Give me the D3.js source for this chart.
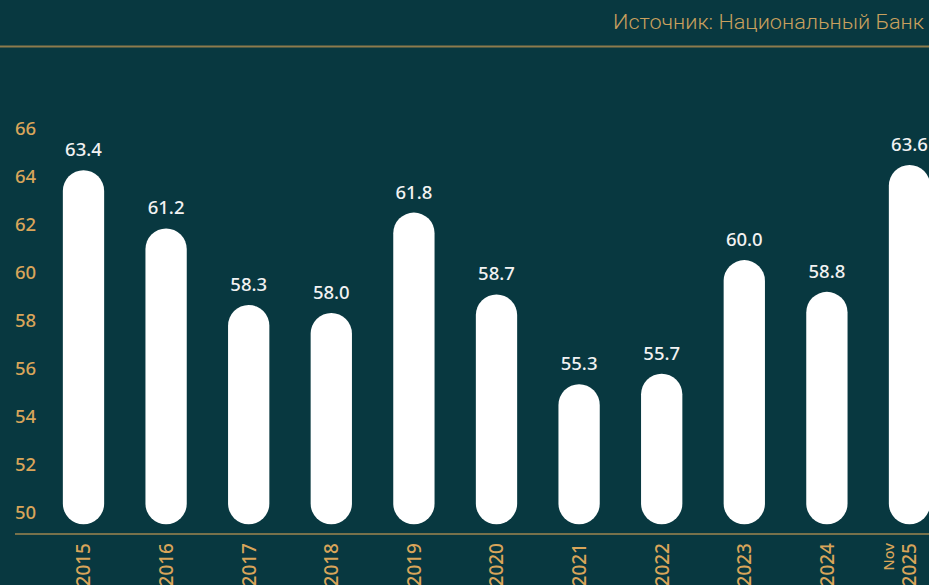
<!DOCTYPE html>
<html>
<head>
<meta charset="utf-8">
<script src="https://cdn.jsdelivr.net/npm/d3@7"></script>
<style>
  html, body { margin: 0; padding: 0; background: #083840; }
  svg { display: block; }
</style>
</head>
<body>
<svg id="chart" width="929" height="585"></svg>
<script>
// ==================== DATA ====================
const categories = ['2015', '2016', '2017', '2018', '2019', '2020', '2021', '2022', '2023', '2024', 'Nov\n2025'];
const values = [63.4, 61.2, 58.3, 58.0, 61.8, 58.7, 55.3, 55.7, 60.0, 58.8, 63.6];
const yTicks = [50, 52, 54, 56, 58, 60, 62, 64, 66];
const sourceText = 'Источник: Национальный Банк';

const W = 929, H = 585;
const BG = '#083840';
const GOLD = '#d9a55a';
const LINE_GOLD = '#8d7b4c';
const FONT = '"Noto Sans", "DejaVu Sans", sans-serif';

const svg = d3.select('#chart');
svg.append('rect').attr('width', W).attr('height', H).attr('fill', BG);

// ==================== ESCALAS ====================
const x = d3.scaleBand()
  .domain(categories)
  .range([42.2, 950.8])
  .paddingInner(0.5)
  .paddingOuter(0.25);

// bars: bottom of the pill sits at 50
const y = d3.scaleLinear().domain([50, 66]).range([524.3, 101.6]);

// axis labels are spaced on their own grid in the original
const yAxisScale = d3.scaleLinear().domain([50, 66]).range([512.5, 128.5]);

// ==================== CABECERA ====================
svg.append('text')
  .attr('x', 924)
  .attr('y', 29)
  .attr('text-anchor', 'end')
  .attr('fill', '#c9a05e')
  .attr('font-family', 'Roboto, "Liberation Sans", sans-serif')
  .attr('font-weight', 300)
  .attr('font-size', 21)
  .attr('textLength', 311)
  .attr('lengthAdjust', 'spacingAndGlyphs')
  .text(sourceText);

svg.append('line')
  .attr('x1', 0).attr('x2', W)
  .attr('y1', 46.5).attr('y2', 46.5)
  .attr('stroke', LINE_GOLD)
  .attr('stroke-width', 2);

// ==================== EJE Y ====================
const yAxis = svg.append('g')
  .attr('transform', 'translate(15,0)')
  .call(d3.axisRight(yAxisScale).tickValues(yTicks).tickSize(0).tickPadding(0));
yAxis.select('.domain').remove();
yAxis.selectAll('text')
  .attr('fill', GOLD)
  .attr('font-family', FONT)
  .attr('font-weight', 500)
  .attr('font-size', 18.5)
  .attr('text-anchor', 'start');

// ==================== BARRAS ====================
const bw = x.bandwidth();
svg.append('g')
  .selectAll('rect')
  .data(values)
  .join('rect')
  .attr('x', (d, i) => x(categories[i]))
  .attr('y', d => y(d))
  .attr('width', bw)
  .attr('height', d => y(50) - y(d))
  .attr('rx', bw / 2)
  .attr('ry', bw / 2)
  .attr('fill', '#ffffff');

// value labels
svg.append('g')
  .selectAll('text')
  .data(values)
  .join('text')
  .attr('x', (d, i) => x(categories[i]) + bw / 2)
  .attr('y', d => y(d) - 14)
  .attr('text-anchor', 'middle')
  .attr('fill', '#f2f2f2')
  .attr('font-family', FONT)
  .attr('font-weight', 500)
  .attr('font-size', 18.5)
  .text(d => d.toFixed(1));

// ==================== EJE X ====================
svg.append('line')
  .attr('x1', 15).attr('x2', W)
  .attr('y1', 534).attr('y2', 534)
  .attr('stroke', '#9c844f')
  .attr('stroke-width', 1.6);

const xLabels = svg.append('g')
  .selectAll('g')
  .data(categories)
  .join('g')
  .attr('transform', d => `translate(${x(d) + bw / 2},543) rotate(-90)`);

xLabels.each(function (d) {
  const lines = d.split('\n');
  const g = d3.select(this);
  lines.forEach((line, i) => {
    const isMain = i === lines.length - 1;
    g.append('text')
      .attr('x', 0)
      .attr('y', isMain ? 0 : -20.5)
      .attr('dy', '0.36em')
      .attr('text-anchor', 'end')
      .attr('fill', GOLD)
      .attr('font-family', FONT)
      .attr('font-weight', 500)
      .attr('font-size', isMain ? 19 : 14.5)
      .text(line);
  });
});
</script>
</body>
</html>
